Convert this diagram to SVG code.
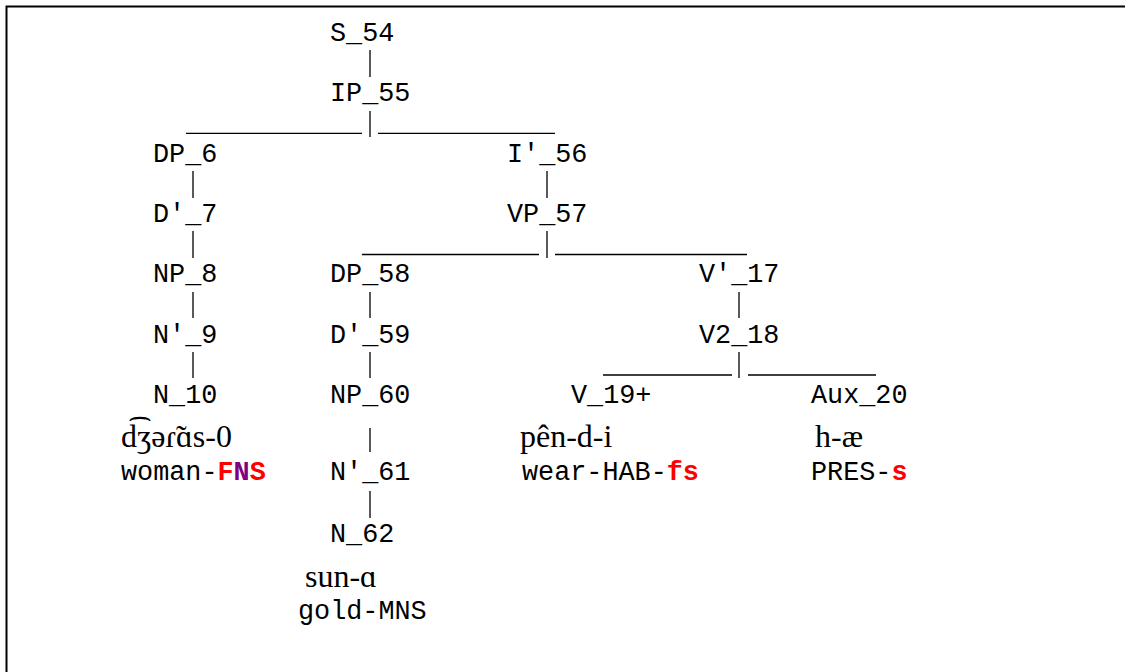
<svg xmlns="http://www.w3.org/2000/svg" width="1125" height="672" viewBox="0 0 1125 672">
<style>
.m{font-family:"Liberation Mono","Courier New",monospace;font-size:26.8px;fill:#000}
.s{font-family:"Liberation Serif","DejaVu Serif",serif;font-size:32px;fill:#000}
.r{fill:#ff0000;font-weight:bold}
.p{fill:#800080;font-weight:bold}
.c line{stroke:#000;stroke-width:1.3}
</style>
<rect x="6.5" y="6.5" width="1140" height="700" fill="#fff" stroke="#000" stroke-width="2"/>
<g class="c" id="connectors">
<line x1="370" y1="50" x2="370" y2="77"/>
<line x1="370" y1="111" x2="370" y2="137"/>
<line x1="186" y1="133.3" x2="362" y2="133.3"/>
<line x1="378" y1="133.3" x2="555" y2="133.3"/>
<line x1="193" y1="171" x2="193" y2="198"/>
<line x1="547" y1="171" x2="547" y2="198"/>
<line x1="193" y1="231" x2="193" y2="258"/>
<line x1="547" y1="231" x2="547" y2="258"/>
<line x1="362" y1="254.5" x2="539" y2="254.5"/>
<line x1="555" y1="254.5" x2="747" y2="254.5"/>
<line x1="193" y1="292" x2="193" y2="318"/>
<line x1="370" y1="292" x2="370" y2="318"/>
<line x1="739" y1="292" x2="739" y2="318"/>
<line x1="193" y1="352" x2="193" y2="378"/>
<line x1="370" y1="352" x2="370" y2="378"/>
<line x1="739" y1="352" x2="739" y2="378"/>
<line x1="603" y1="375" x2="732" y2="375"/>
<line x1="748" y1="375" x2="876" y2="375"/>
<line x1="370" y1="428" x2="370" y2="452"/>
<line x1="370" y1="491" x2="370" y2="518"/>
</g>
<g id="S_54"><text class="m" x="330" y="41">S_54</text></g>
<g id="IP_55"><text class="m" x="330" y="101.3">IP_55</text></g>
<g id="DP_6"><text class="m" x="153" y="161.5">DP_6</text></g>
<g id="I_56"><text class="m" x="507" y="161.5">I'_56</text></g>
<g id="D_7"><text class="m" x="153" y="221.8">D'_7</text></g>
<g id="VP_57"><text class="m" x="507" y="221.8">VP_57</text></g>
<g id="NP_8"><text class="m" x="153" y="282.2">NP_8</text></g>
<g id="DP_58"><text class="m" x="330" y="282.2">DP_58</text></g>
<g id="V_17"><text class="m" x="699" y="282.2">V'_17</text></g>
<g id="N_9"><text class="m" x="153" y="342.5">N'_9</text></g>
<g id="D_59"><text class="m" x="330" y="342.5">D'_59</text></g>
<g id="V2_18"><text class="m" x="699" y="342.5">V2_18</text></g>
<g id="N_10"><text class="m" x="153" y="402.5">N_10</text></g>
<g id="NP_60"><text class="m" x="330" y="402.5">NP_60</text></g>
<g id="V_19"><text class="m" x="571" y="402.5">V_19+</text></g>
<g id="Aux_20"><text class="m" x="811" y="402.5">Aux_20</text></g>
<g id="word1"><text class="s" x="121" y="446.5">d͡ʒəɾ̃ɑs-0</text><text class="m" x="121" y="480">woman-<tspan class="r">F</tspan><tspan class="p">N</tspan><tspan class="r">S</tspan></text></g>
<g id="N_61"><text class="m" x="330" y="480">N'_61</text></g>
<g id="word2"><text class="s" x="520" y="446.5">pên-d-i</text><text class="m" x="522" y="480">wear-HAB-<tspan class="r">fs</tspan></text></g>
<g id="word3"><text class="s" x="815" y="446.5">h-æ</text><text class="m" x="811" y="480">PRES-<tspan class="r">s</tspan></text></g>
<g id="N_62"><text class="m" x="330" y="541.5">N_62</text></g>
<g id="word4"><text class="s" x="305" y="587">sun-ɑ</text><text class="m" x="298" y="619">gold-MNS</text></g>
</svg>
